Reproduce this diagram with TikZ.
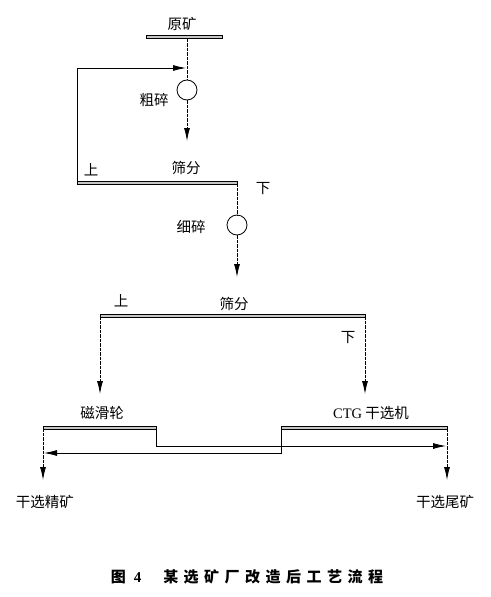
\documentclass[tikz,border=0pt]{standalone}
\usepackage{fontspec}
\newfontfamily\cjk{Noto Sans CJK SC}
\usetikzlibrary{arrows.meta}
\newcommand\gapc{\hspace{5.5pt}}
\begin{document}
\begin{tikzpicture}[x=1pt,y=-1pt,
  bar/.style={draw=black,line width=0.6pt,fill=gray!45,minimum height=3.2pt,inner sep=0pt,outer sep=0pt},
  mill/.style={circle,draw=black,line width=0.8pt,minimum size=20pt,inner sep=0pt,outer sep=0pt},
  lbl/.style={font=\cjk\fontsize{14.5}{14.5}\selectfont,inner sep=0pt},
  conn/.style={line width=0.8pt,dash pattern=on 3.5pt off 1pt},
  flow/.style={line width=0.8pt},
  tip/.style={-{Latex[length=13pt,width=6pt]}}]
\useasboundingbox (0,0) rectangle (490,597);
% bars
\node[bar,minimum width=76pt] (ore) at (184,37) {};
\node[bar,minimum width=160pt] (s1) at (157,183) {};
\node[bar,minimum width=265pt] (s2) at (232.5,316) {};
\node[bar,minimum width=113pt] (mag) at (99.5,428) {};
\node[bar,minimum width=166pt] (ctg) at (364,428) {};
% mills
\node[mill] (c1) at (187,90) {};
\node[mill] (c2) at (237,225) {};
% labels
\node[lbl] (tore) at (182,24) {原矿};
\node[lbl] (tc1) at (154,100) {粗碎};
\node[lbl] (tup1) at (91,170) {上};
\node[lbl] (ts1) at (186,168) {筛分};
\node[lbl] (tdn1) at (263,189) {下};
\node[lbl] (tc2) at (191,227) {细碎};
\node[lbl] (tup2) at (121,301) {上};
\node[lbl] (ts2) at (234,304) {筛分};
\node[lbl] (tdn2) at (348,338) {下};
\node[lbl] (tmag) at (102,413) {磁滑轮};
\node[lbl] (tctg) at (371,413) {{\fontspec{Liberation Serif}CTG} 干选机};
\node[lbl] (tcon) at (45,502) {干选精矿};
\node[lbl] (ttail) at (445,502) {干选尾矿};
\node[font=\cjk\bfseries\fontsize{15}{15}\selectfont,inner sep=0pt] (cap) at (247,577) {图\hspace{8pt}{\fontspec{Liberation Serif}\bfseries 4}\hspace{22pt}某\gapc 选\gapc 矿\gapc 厂\gapc 改\gapc 造\gapc 后\gapc 工\gapc 艺\gapc 流\gapc 程};
% coordinates
\coordinate (fb) at (186,68);
\coordinate (a1) at (187,141);
\coordinate (a2) at (237,277);
\coordinate (a3) at (100,394);
\coordinate (a4) at (365,394);
\coordinate (a5) at (43,480);
\coordinate (a6) at (447,480);
\coordinate (m1) at (156,446);
\coordinate (r1) at (446,446);
\coordinate (k1) at (281,453);
\coordinate (l1) at (44,453);
% connectors
\draw[conn] (c1 |- ore.south) -- (c1.north);
\draw[flow,tip] (s1.west) |- (fb);
\draw[conn,tip] (c1.south) -- (a1);
\draw[conn] (s1.east) -- (c2.north);
\draw[conn,tip] (c2.south) -- (a2);
\draw[conn,tip] (s2.west) -- (a3);
\draw[conn,tip] (s2.east) -- (a4);
\draw[conn,tip] (mag.west) -- (a5);
\draw[conn,tip] (ctg.east) -- (a6);
\draw[flow,tip] (mag.east) |- (m1) -- (r1);
\draw[flow,tip] (ctg.west) |- (k1) -- (l1);
\end{tikzpicture}
\end{document}
